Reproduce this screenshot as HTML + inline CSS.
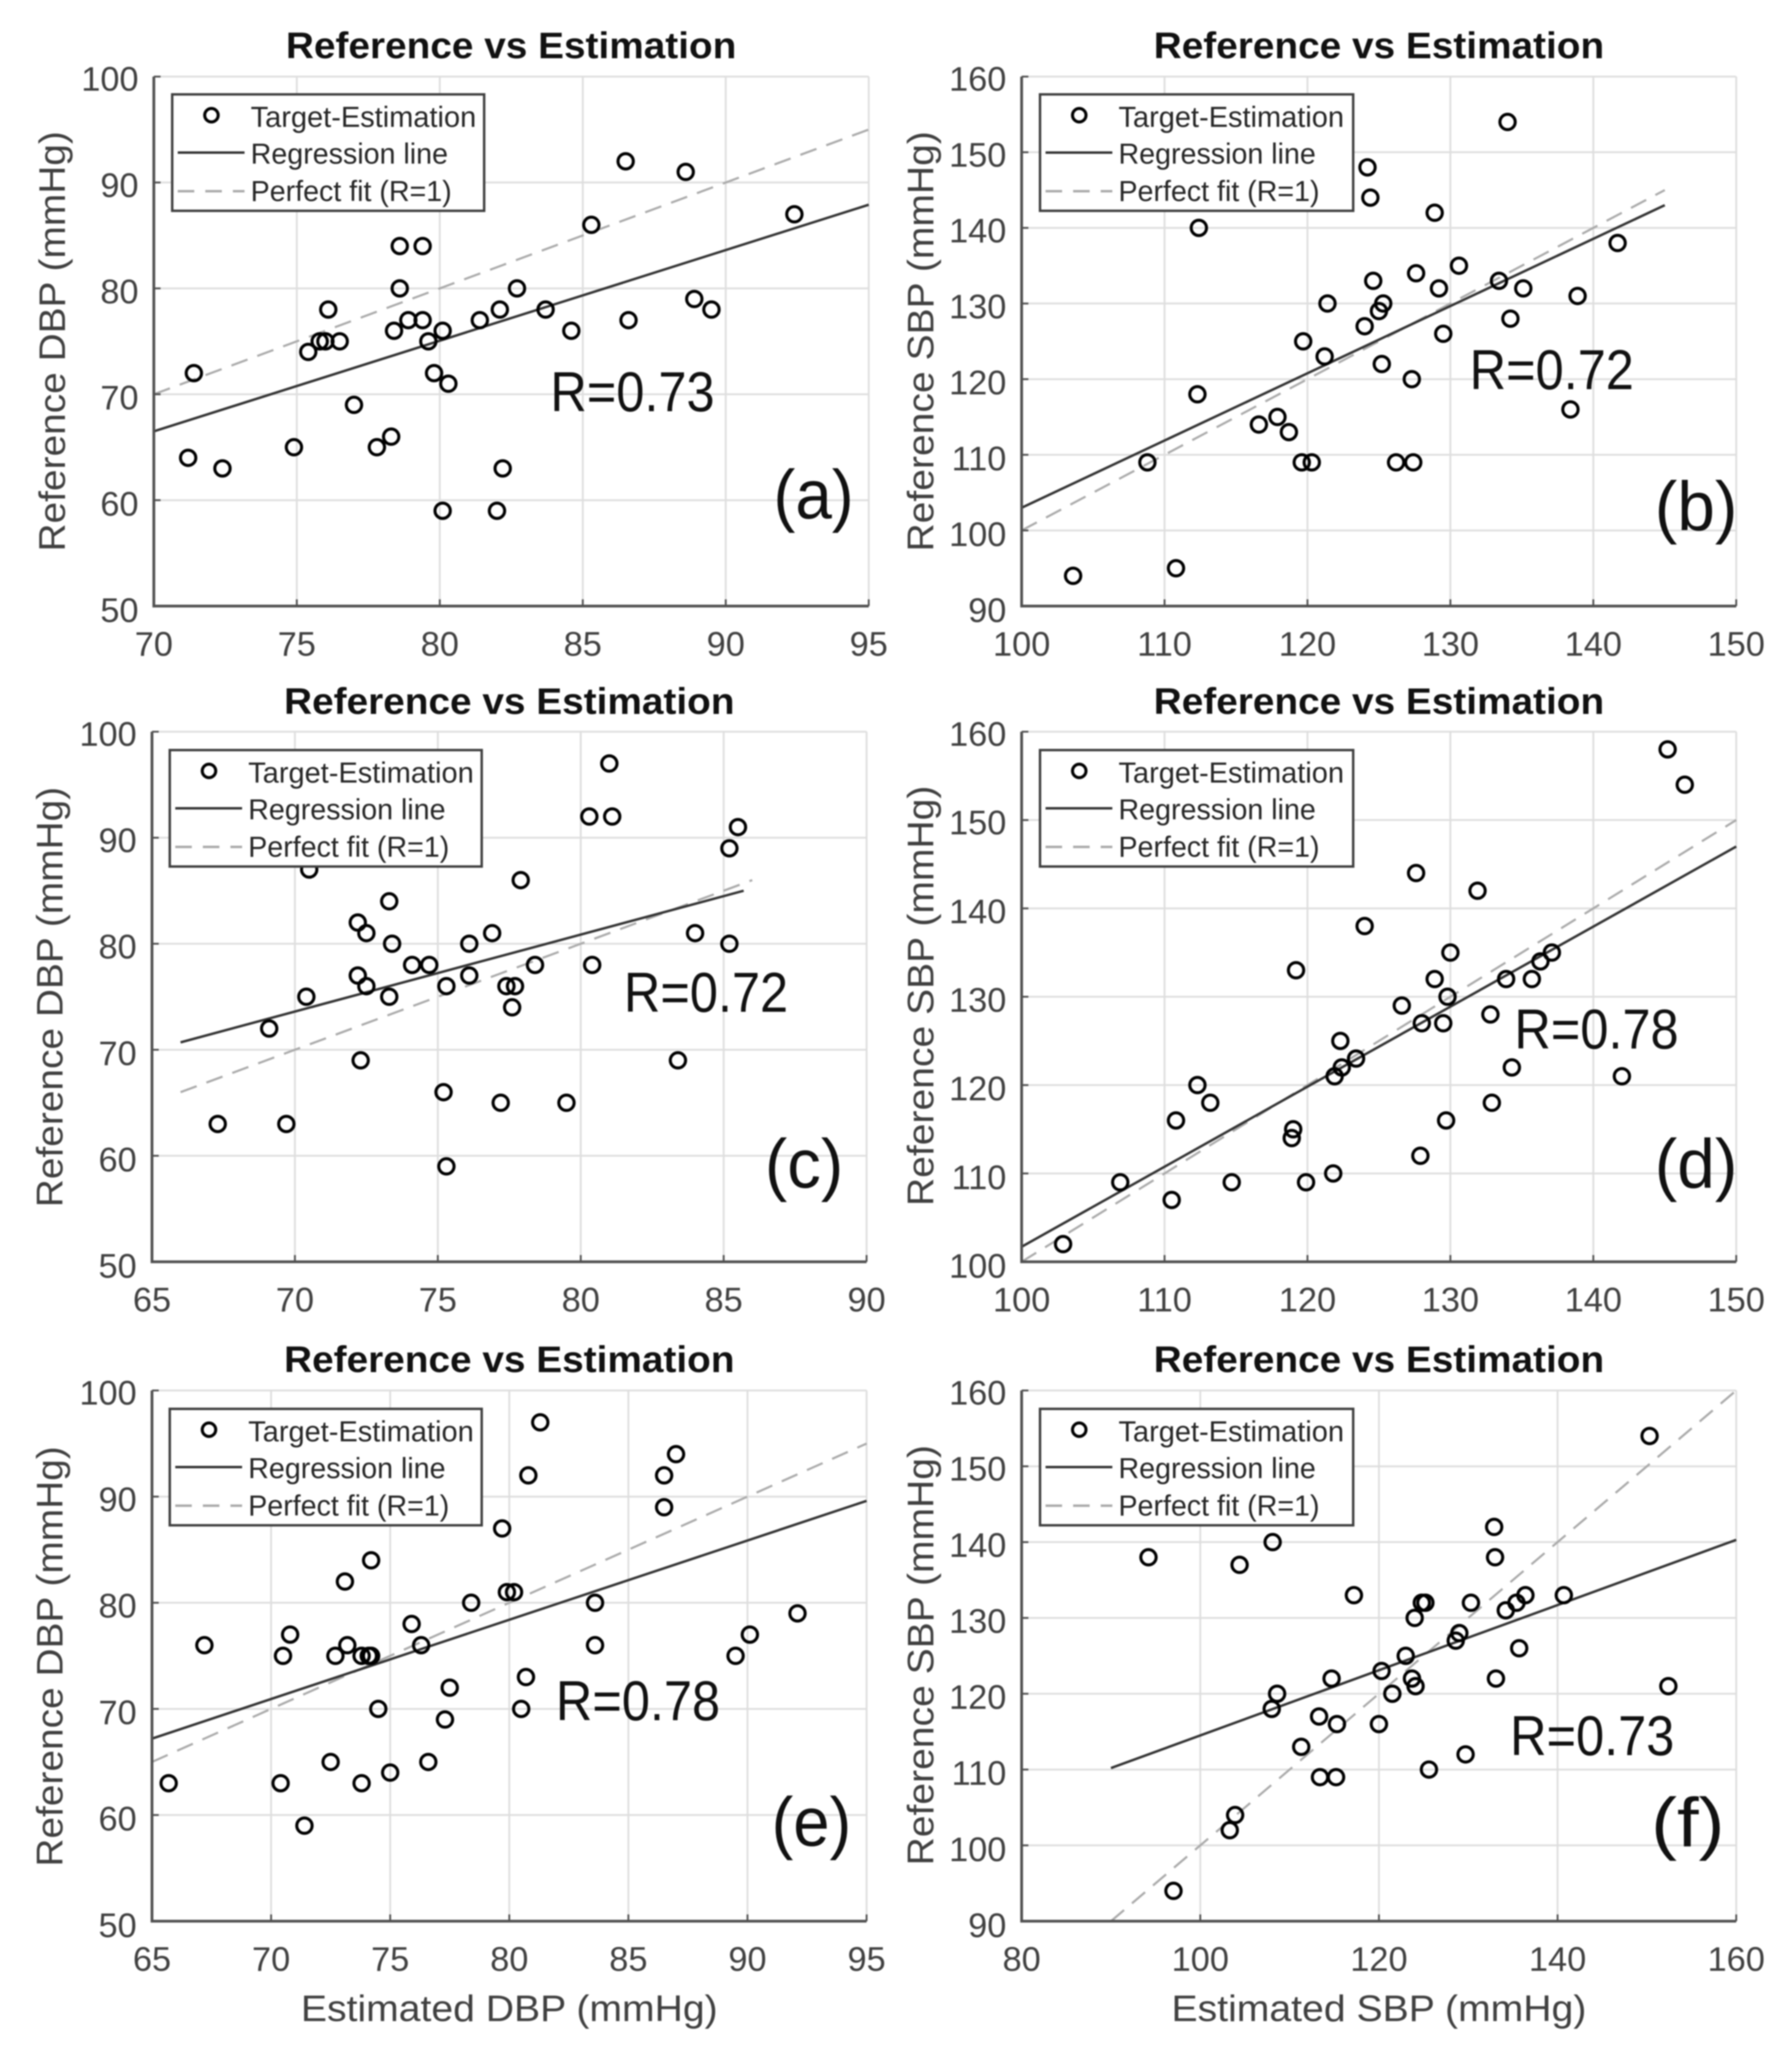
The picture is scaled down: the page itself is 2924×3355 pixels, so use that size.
<!DOCTYPE html>
<html lang="en">
<head>
<meta charset="utf-8">
<title>Reference vs Estimation</title>
<style>
html,body{margin:0;padding:0;background:#fff;}
svg{display:block;filter:blur(1px);}
text{font-family:"Liberation Sans",sans-serif;fill:#404040;}
.title{font-size:60px;font-weight:bold;fill:#111;text-anchor:middle;}
.axt{font-size:60px;text-anchor:middle;}
.tick{font-size:56px;}
.leg{font-size:47px;fill:#262626;}
.r{font-size:92px;fill:#111;}
.lab{font-size:113px;fill:#111;}
.box{fill:#fff;stroke:#404040;stroke-width:4;}
</style>
</head>
<body>
<svg id="chart" xmlns="http://www.w3.org/2000/svg" width="2924" height="3355" viewBox="0 0 2924 3355">
<rect width="2924" height="3355" fill="#fff"/>
<g id="layer"></g>

<g id="static-text">
<text class="title" x="834" y="95" textLength="735" lengthAdjust="spacingAndGlyphs">Reference vs Estimation</text>
<text class="title" x="2250" y="95" textLength="735" lengthAdjust="spacingAndGlyphs">Reference vs Estimation</text>
<text class="title" x="831" y="1165" textLength="735" lengthAdjust="spacingAndGlyphs">Reference vs Estimation</text>
<text class="title" x="2250" y="1165" textLength="735" lengthAdjust="spacingAndGlyphs">Reference vs Estimation</text>
<text class="title" x="831" y="2239" textLength="735" lengthAdjust="spacingAndGlyphs">Reference vs Estimation</text>
<text class="title" x="2250" y="2239" textLength="735" lengthAdjust="spacingAndGlyphs">Reference vs Estimation</text>

<text class="axt" transform="translate(106,557) rotate(-90)" textLength="686" lengthAdjust="spacingAndGlyphs">Reference DBP (mmHg)</text>
<text class="axt" transform="translate(1523,557) rotate(-90)" textLength="686" lengthAdjust="spacingAndGlyphs">Reference SBP (mmHg)</text>
<text class="axt" transform="translate(102,1627) rotate(-90)" textLength="686" lengthAdjust="spacingAndGlyphs">Reference DBP (mmHg)</text>
<text class="axt" transform="translate(1523,1625) rotate(-90)" textLength="686" lengthAdjust="spacingAndGlyphs">Reference SBP (mmHg)</text>
<text class="axt" transform="translate(102,2703) rotate(-90)" textLength="686" lengthAdjust="spacingAndGlyphs">Reference DBP (mmHg)</text>
<text class="axt" transform="translate(1523,2701) rotate(-90)" textLength="686" lengthAdjust="spacingAndGlyphs">Reference SBP (mmHg)</text>

<text class="axt" x="831" y="3298" textLength="680" lengthAdjust="spacingAndGlyphs">Estimated DBP (mmHg)</text>
<text class="axt" x="2250" y="3298" textLength="677" lengthAdjust="spacingAndGlyphs">Estimated SBP (mmHg)</text>

<text class="r" x="898" y="671" textLength="268" lengthAdjust="spacingAndGlyphs">R=0.73</text>
<text class="r" x="2398" y="635" textLength="268" lengthAdjust="spacingAndGlyphs">R=0.72</text>
<text class="r" x="1018" y="1651" textLength="268" lengthAdjust="spacingAndGlyphs">R=0.72</text>
<text class="r" x="2471" y="1711" textLength="268" lengthAdjust="spacingAndGlyphs">R=0.78</text>
<text class="r" x="907" y="2807" textLength="268" lengthAdjust="spacingAndGlyphs">R=0.78</text>
<text class="r" x="2464" y="2864" textLength="268" lengthAdjust="spacingAndGlyphs">R=0.73</text>

<text class="lab" x="1262" y="846" textLength="131" lengthAdjust="spacingAndGlyphs">(a)</text>
<text class="lab" x="2700" y="865" textLength="135" lengthAdjust="spacingAndGlyphs">(b)</text>
<text class="lab" x="1248" y="1938" textLength="128" lengthAdjust="spacingAndGlyphs">(c)</text>
<text class="lab" x="2700" y="1938" textLength="135" lengthAdjust="spacingAndGlyphs">(d)</text>
<text class="lab" x="1259" y="3012" textLength="130" lengthAdjust="spacingAndGlyphs">(e)</text>
<text class="lab" x="2694" y="3013" textLength="120" lengthAdjust="spacingAndGlyphs">(f)</text>
</g>

<g transform="translate(281,154)">
<rect class="box" width="509" height="190"/>
<circle cx="64" cy="34" r="11" fill="none" stroke="#000" stroke-width="5"/>
<text class="leg" x="128" y="53" textLength="368" lengthAdjust="spacingAndGlyphs">Target-Estimation</text>
<line x1="9" x2="118" y1="95" y2="95" stroke="#333" stroke-width="4"/>
<text class="leg" x="128" y="113" textLength="322" lengthAdjust="spacingAndGlyphs">Regression line</text>
<line x1="9" x2="118" y1="158" y2="158" stroke="#aaa" stroke-width="4" stroke-dasharray="27 18"/>
<text class="leg" x="128" y="174" textLength="328" lengthAdjust="spacingAndGlyphs">Perfect fit (R=1)</text>
</g>
<g transform="translate(1697,154)">
<rect class="box" width="511" height="190"/>
<circle cx="64" cy="34" r="11" fill="none" stroke="#000" stroke-width="5"/>
<text class="leg" x="128" y="53" textLength="368" lengthAdjust="spacingAndGlyphs">Target-Estimation</text>
<line x1="9" x2="118" y1="95" y2="95" stroke="#333" stroke-width="4"/>
<text class="leg" x="128" y="113" textLength="322" lengthAdjust="spacingAndGlyphs">Regression line</text>
<line x1="9" x2="118" y1="158" y2="158" stroke="#aaa" stroke-width="4" stroke-dasharray="27 18"/>
<text class="leg" x="128" y="174" textLength="328" lengthAdjust="spacingAndGlyphs">Perfect fit (R=1)</text>
</g>
<g transform="translate(277,1224)">
<rect class="box" width="509" height="190"/>
<circle cx="64" cy="34" r="11" fill="none" stroke="#000" stroke-width="5"/>
<text class="leg" x="128" y="53" textLength="368" lengthAdjust="spacingAndGlyphs">Target-Estimation</text>
<line x1="9" x2="118" y1="95" y2="95" stroke="#333" stroke-width="4"/>
<text class="leg" x="128" y="113" textLength="322" lengthAdjust="spacingAndGlyphs">Regression line</text>
<line x1="9" x2="118" y1="158" y2="158" stroke="#aaa" stroke-width="4" stroke-dasharray="27 18"/>
<text class="leg" x="128" y="174" textLength="328" lengthAdjust="spacingAndGlyphs">Perfect fit (R=1)</text>
</g>
<g transform="translate(1697,1224)">
<rect class="box" width="511" height="190"/>
<circle cx="64" cy="34" r="11" fill="none" stroke="#000" stroke-width="5"/>
<text class="leg" x="128" y="53" textLength="368" lengthAdjust="spacingAndGlyphs">Target-Estimation</text>
<line x1="9" x2="118" y1="95" y2="95" stroke="#333" stroke-width="4"/>
<text class="leg" x="128" y="113" textLength="322" lengthAdjust="spacingAndGlyphs">Regression line</text>
<line x1="9" x2="118" y1="158" y2="158" stroke="#aaa" stroke-width="4" stroke-dasharray="27 18"/>
<text class="leg" x="128" y="174" textLength="328" lengthAdjust="spacingAndGlyphs">Perfect fit (R=1)</text>
</g>
<g transform="translate(277,2299)">
<rect class="box" width="509" height="190"/>
<circle cx="64" cy="34" r="11" fill="none" stroke="#000" stroke-width="5"/>
<text class="leg" x="128" y="53" textLength="368" lengthAdjust="spacingAndGlyphs">Target-Estimation</text>
<line x1="9" x2="118" y1="95" y2="95" stroke="#333" stroke-width="4"/>
<text class="leg" x="128" y="113" textLength="322" lengthAdjust="spacingAndGlyphs">Regression line</text>
<line x1="9" x2="118" y1="158" y2="158" stroke="#aaa" stroke-width="4" stroke-dasharray="27 18"/>
<text class="leg" x="128" y="174" textLength="328" lengthAdjust="spacingAndGlyphs">Perfect fit (R=1)</text>
</g>
<g transform="translate(1697,2299)">
<rect class="box" width="511" height="190"/>
<circle cx="64" cy="34" r="11" fill="none" stroke="#000" stroke-width="5"/>
<text class="leg" x="128" y="53" textLength="368" lengthAdjust="spacingAndGlyphs">Target-Estimation</text>
<line x1="9" x2="118" y1="95" y2="95" stroke="#333" stroke-width="4"/>
<text class="leg" x="128" y="113" textLength="322" lengthAdjust="spacingAndGlyphs">Regression line</text>
<line x1="9" x2="118" y1="158" y2="158" stroke="#aaa" stroke-width="4" stroke-dasharray="27 18"/>
<text class="leg" x="128" y="174" textLength="328" lengthAdjust="spacingAndGlyphs">Perfect fit (R=1)</text>
</g>
</svg>

<script>
// Panel (a)
const aEstimated = [71.2,71.4,72.4,74.9,75.4,75.8,76,76.1,76.5,77,77.8,78.3,78.4,78.6,78.6,78.9,79.4,79.4,79.6,79.8,80.1,80.1,80.3,81.4,82,82.1,82.2,82.7,83.7,84.6,85.3,86.5,86.6,88.6,88.9,89.5,92.4];
const aReference = [64,72,63,65,74,75,75,78,75,69,65,66,76,84,80,77,84,77,75,72,76,59,71,77,59,78,63,80,78,76,86,92,77,91,79,78,87];
const aRegressionX = [70,95];
const aRegressionY = [66.5,87.9];
const aPerfectX = [70,95];
const aPerfectY = [70,95];
const aXTicks = [70,75,80,85,90,95];
const aYTicks = [50,60,70,80,90,100];
// Panel (b)
const bEstimated = [103.6,110.8,108.8,112.3,112.4,116.6,117.9,118.7,119.6,119.7,120.3,121.2,121.4,124,124.2,124.4,124.6,125,125.3,125.2,126.2,127.3,127.4,127.6,128.9,129.2,129.5,130.6,133.4,134,134.2,135.1,138.4,138.9,141.7];
const bReference = [94,95,109,118,140,114,115,113,109,125,109,123,130,127,148,144,133,129,130,122,109,120,109,134,142,132,126,135,133,154,128,132,116,131,138];
const bRegressionX = [100,145];
const bRegressionY = [103,143];
const bPerfectX = [100,145];
const bPerfectY = [100,145];
const bXTicks = [100,110,120,130,140,150];
const bYTicks = [90,100,110,120,130,140,150,160];
// Panel (c)
const cEstimated = [67.3,69.1,69.7,70.4,70.5,72.2,72.2,72.3,72.5,72.5,73.3,73.3,73.4,74.1,74.7,75.2,75.3,75.3,76.1,76.1,76.9,77.2,77.4,77.6,77.7,77.9,78.4,79.5,80.3,80.4,81,81.1,83.4,84,85.2,85.2,85.5];
const cReference = [63,72,63,75,87,82,77,69,81,76,75,84,80,78,78,66,59,76,80,77,81,65,76,74,76,86,78,65,92,78,97,92,69,81,89,80,91];
const cRegressionX = [66,85.7];
const cRegressionY = [70.7,85];
const cPerfectX = [66,86];
const cPerfectY = [66,86];
const cXTicks = [65,70,75,80,85,90];
const cYTicks = [50,60,70,80,90,100];
// Panel (d)
const dEstimated = [102.9,106.9,110.5,110.8,112.3,113.2,114.7,118.9,119,119.2,119.9,121.8,121.9,122.3,122.4,123.4,124,126.6,127.6,127.9,128,128.9,129.5,129.7,129.8,130,131.9,132.8,132.9,133.9,134.3,135.7,136.3,137.1,142,145.2,146.4];
const dReference = [102,109,107,116,120,118,109,114,115,133,109,110,121,125,122,123,138,129,144,112,127,132,127,116,130,135,142,128,118,132,122,132,134,135,121,158,154];
const dRegressionX = [100,150];
const dRegressionY = [101.7,147];
const dPerfectX = [100,150];
const dPerfectY = [100,150];
const dXTicks = [100,110,120,130,140,150];
const dYTicks = [100,110,120,130,140,150,160];
// Panel (e)
const eEstimated = [65.7,67.2,70.4,70.5,70.8,71.4,72.5,72.7,73.1,73.2,73.8,73.8,74.1,74.2,74.2,74.5,75,75.9,76.3,76.6,77.3,77.5,78.4,79.7,79.9,80.2,80.5,80.7,80.8,81.3,83.6,83.6,86.5,86.5,87,89.5,90.1,92.1];
const eReference = [63,76,63,75,77,59,65,75,82,76,63,75,75,75,84,70,64,78,76,65,69,72,80,87,81,81,70,73,92,97,76,80,92,89,94,75,77,79];
const eRegressionX = [65,95];
const eRegressionY = [67.2,89.6];
const ePerfectX = [65,95];
const ePerfectY = [65,95];
const eXTicks = [65,70,75,80,85,90,95];
const eYTicks = [50,60,70,80,90,100];
// Panel (f)
const fEstimated = [94.2,97,103.3,103.9,104.4,108,108.1,108.6,111.3,113.3,113.4,114.7,115.2,115.3,117.2,120,120.3,121.5,123,123.7,124,124.1,124.8,125.2,125.6,128.6,129,129.7,130.3,132.9,133.1,133,134.2,135.4,135.7,136.4,140.7,150.3,152.4];
const fReference = [138,94,102,104,137,118,140,120,113,117,109,122,109,116,133,116,123,120,125,122,130,121,132,132,110,127,128,112,132,142,122,138,131,132,126,133,133,154,121];
const fRegressionX = [90,160];
const fRegressionY = [110.2,140.3];
const fPerfectX = [90,160];
const fPerfectY = [90,160];
const fXTicks = [80,100,120,140,160];
const fYTicks = [90,100,110,120,130,140,150,160];

const NS = 'http://www.w3.org/2000/svg';
const layer = document.getElementById('layer');

function make(tag, attrs, parent) {
  const el = document.createElementNS(NS, tag);
  for (const k in attrs) el.setAttribute(k, attrs[k]);
  parent.appendChild(el);
  return el;
}

function drawPanel(key, box, est, ref, regX, regY, perX, perY, xTicks, yTicks) {
  const g = make('g', {}, layer);
  
  

  const xMin = xTicks[0], xMax = xTicks[xTicks.length - 1];
  const yMin = yTicks[0], yMax = yTicks[yTicks.length - 1];
  const sx = v => box.l + (v - xMin) / (xMax - xMin) * (box.r - box.l);
  const sy = v => box.b - (v - yMin) / (yMax - yMin) * (box.b - box.t);

  xTicks.forEach(v => {
    const grid = make('line', {x1: sx(v), x2: sx(v), y1: box.t, y2: box.b, stroke: '#dedede', 'stroke-width': 3}, g);
    
    
  });
  yTicks.forEach(v => {
    const grid = make('line', {x1: box.l, x2: box.r, y1: sy(v), y2: sy(v), stroke: '#dedede', 'stroke-width': 3}, g);
    
    
  });

  const perfect = make('line', {x1: sx(perX[0]), y1: sy(perY[0]), x2: sx(perX[1]), y2: sy(perY[1]), stroke: '#aaa', 'stroke-width': 3.5, 'stroke-dasharray': '28 17'}, g);
  
  

  const regression = make('line', {x1: sx(regX[0]), y1: sy(regY[0]), x2: sx(regX[1]), y2: sy(regY[1]), stroke: '#333', 'stroke-width': 4}, g);
  
  

  const axisPath = 'M' + box.l + ' ' + box.t + 'V' + box.b + 'H' + box.r;
  const axes = make('path', {d: axisPath, fill: 'none', stroke: '#505050', 'stroke-width': 4.5}, g);
  
  

  xTicks.forEach(v => {
    const mark = make('line', {x1: sx(v), x2: sx(v), y1: box.b, y2: box.b - 11, stroke: '#505050', 'stroke-width': 3}, g);
    
    
    const label = make('text', {class: 'tick', x: sx(v), y: box.b + 81, 'text-anchor': 'middle'}, g);
    
    
    label.textContent = v;
  });
  yTicks.forEach(v => {
    const mark = make('line', {x1: box.l, x2: box.l + 11, y1: sy(v), y2: sy(v), stroke: '#505050', 'stroke-width': 3}, g);
    
    
    const label = make('text', {class: 'tick', x: box.l - 25, y: sy(v) + 23 + 3 * (yMax - v) / (yMax - yMin), 'text-anchor': 'end'}, g);
    
    
    label.textContent = v;
  });

  est.forEach((v, i) => {
    const point = make('circle', {cx: sx(v), cy: sy(ref[i]), r: 12.5, fill: 'none', stroke: '#000', 'stroke-width': 5}, g);
    
    
  });
}

drawPanel('a', {l: 251, r: 1417.5, t: 125, b: 989}, aEstimated, aReference, aRegressionX, aRegressionY, aPerfectX, aPerfectY, aXTicks, aYTicks);
drawPanel('b', {l: 1667, r: 2833, t: 125, b: 989}, bEstimated, bReference, bRegressionX, bRegressionY, bPerfectX, bPerfectY, bXTicks, bYTicks);
drawPanel('c', {l: 248, r: 1414, t: 1194, b: 2059}, cEstimated, cReference, cRegressionX, cRegressionY, cPerfectX, cPerfectY, cXTicks, cYTicks);
drawPanel('d', {l: 1667, r: 2833, t: 1194, b: 2059}, dEstimated, dReference, dRegressionX, dRegressionY, dPerfectX, dPerfectY, dXTicks, dYTicks);
drawPanel('e', {l: 248, r: 1414, t: 2269, b: 3135}, eEstimated, eReference, eRegressionX, eRegressionY, ePerfectX, ePerfectY, eXTicks, eYTicks);
drawPanel('f', {l: 1667, r: 2833, t: 2269, b: 3135}, fEstimated, fReference, fRegressionX, fRegressionY, fPerfectX, fPerfectY, fXTicks, fYTicks);
</script>
</body>
</html>
